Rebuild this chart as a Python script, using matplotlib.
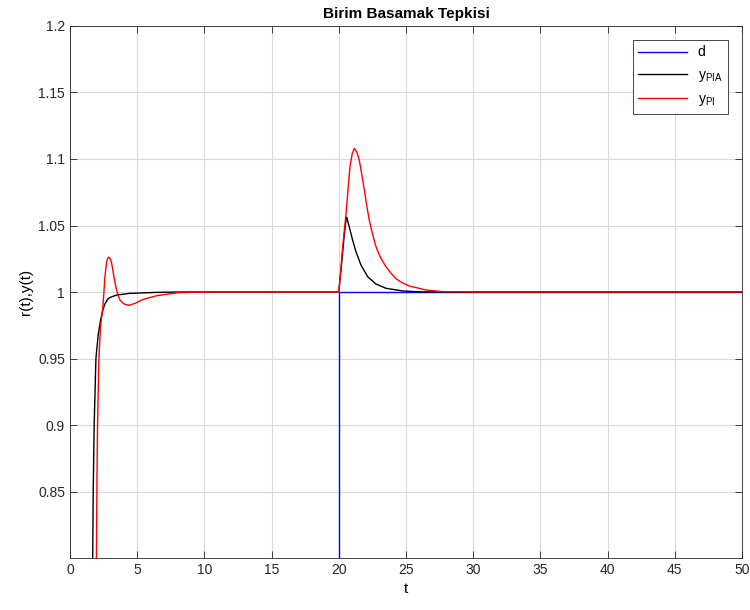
import numpy as np
import matplotlib
matplotlib.use('Agg')
import matplotlib.pyplot as plt

plt.rcParams['font.family'] = ['Liberation Sans', 'DejaVu Sans']
plt.rcParams['mathtext.fontset'] = 'custom'
plt.rcParams['mathtext.rm'] = 'Liberation Sans'

# d : birim basamak bozucu (t=20)
t_d = [0, 20, 20, 50]
y_d = [0, 0, 1, 1]

# y_PIA (siyah)
t_pia = [1.60, 1.69, 1.73, 1.80, 1.93, 2.10, 2.28, 2.43, 2.60, 2.80, 3.00, 3.47, 4.46, 6.45, 8.0,
         20.0, 20.2, 20.4, 20.55, 20.59, 20.78, 21.03, 21.28, 21.65, 22.15, 22.77, 23.51, 24.75, 26.0, 30.0, 50.0]
y_pia = [0.75, 0.80, 0.85, 0.90, 0.95, 0.968, 0.979, 0.986, 0.991, 0.9945, 0.996, 0.9977, 0.999, 0.9997, 1.0,
         1.0, 1.020, 1.042, 1.055, 1.0562, 1.049, 1.039, 1.0303, 1.0203, 1.0115, 1.006, 1.0028, 1.0008, 1.0001, 1.0, 1.0]

# y_PI (kirmizi)
t_pi = [1.93, 1.97, 2.00, 2.05, 2.15, 2.25, 2.33, 2.43, 2.52, 2.60, 2.73, 2.82, 2.90, 3.00, 3.10, 3.27, 3.37,
        3.47, 3.60, 3.72, 3.90, 4.09, 4.41, 4.84, 5.46, 6.45, 7.44, 8.1, 10.0,
        20.0, 20.15, 20.3, 20.55, 20.83, 21.0, 21.16, 21.35, 21.53, 21.7, 21.9, 22.08, 22.27, 22.5, 22.77,
        23.1, 23.51, 23.9, 24.26, 24.7, 25.25, 26.5, 27.7, 30.0, 50.0]
y_pi = [0.75, 0.80, 0.85, 0.90, 0.95, 0.970, 0.979, 0.9865, 0.999, 1.0115, 1.0228, 1.0255, 1.0261, 1.025, 1.0216, 1.0115, 1.006,
        1.0015, 0.997, 0.994, 0.992, 0.9907, 0.990, 0.9915, 0.9945, 0.9972, 0.9987, 0.9995, 1.0,
        1.0, 1.017, 1.035, 1.060, 1.094, 1.104, 1.108, 1.105, 1.099, 1.089, 1.077, 1.065, 1.054, 1.044, 1.034,
        1.026, 1.019, 1.014, 1.010, 1.007, 1.0045, 1.0015, 1.0003, 1.0, 1.0]

fig = plt.figure(figsize=(7.5, 6.1), dpi=100)
ax = fig.add_axes([0.0933, 0.0852, 0.896, 0.8722])

ax.plot(t_d, y_d, color='b', lw=1.0, label='d')
ax.plot(t_pia, y_pia, color='k', lw=1.0, label=r'y$_{\mathregular{PIA}}$')
ax.plot(t_pi, y_pi, color='r', lw=1.0, label=r'y$_{\mathregular{PI}}$')

ax.set_xlim(0, 50)
ax.set_ylim(0.8, 1.2)
ax.set_xticks(np.arange(0, 51, 5))
ax.set_yticks([0.85, 0.9, 0.95, 1.0, 1.05, 1.1, 1.15, 1.2])
ax.set_yticklabels(['0.85', '0.9', '0.95', '1', '1.05', '1.1', '1.15', '1.2'])
ax.tick_params(direction='in', top=True, right=True, labelsize=10, colors='#262626', length=5, width=0.6)
for s in ax.spines.values():
    s.set_color('#262626')
    s.set_linewidth(0.6)
ax.grid(True, color='#d9d9d9', lw=0.8)
ax.set_axisbelow(True)

ax.set_title('Birim Basamak Tepkisi', fontsize=11, fontweight='bold', pad=6)
ax.set_xlabel('t', fontsize=11)
ax.set_ylabel('r(t),y(t)', fontsize=11)

leg = ax.legend(loc='upper right', fontsize=10, fancybox=False, edgecolor='#262626',
                framealpha=1, handlelength=3.5, borderaxespad=1.0, labelspacing=0.6)
leg.get_frame().set_linewidth(0.6)

fig.savefig('out.png', dpi=100)
